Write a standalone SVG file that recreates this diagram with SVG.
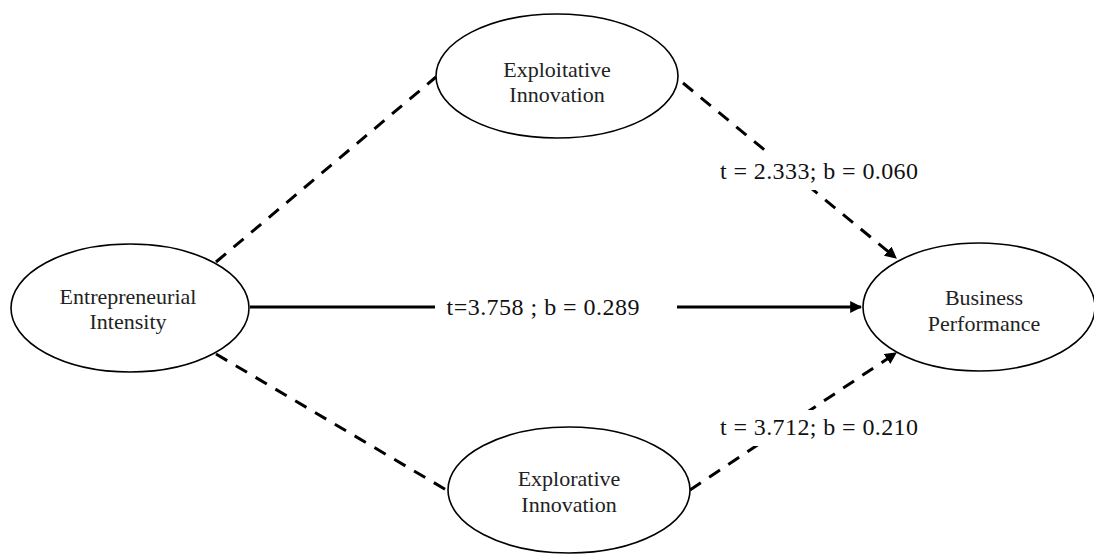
<svg xmlns="http://www.w3.org/2000/svg" width="1094" height="554" viewBox="0 0 1094 554">
<style>
.node{fill:#fff;stroke:#000;stroke-width:1.6}
.nt{font-family:"Liberation Serif","Times New Roman",serif;font-size:22px;fill:#222;text-anchor:middle}
.lt{font-family:"Liberation Serif","Times New Roman",serif;font-size:24px;fill:#111;text-anchor:middle}
.dash{stroke:#000;stroke-width:3;stroke-dasharray:13 10;fill:none}
.solid{stroke:#000;stroke-width:3;fill:none}
</style>
<defs>
<marker id="arr" viewBox="0 0 10 10" refX="9" refY="5" markerWidth="4" markerHeight="4" orient="auto" markerUnits="strokeWidth">
<path d="M0,0 L10,5 L0,10 z" fill="#000"/>
</marker>
</defs>
<rect width="1094" height="554" fill="#fff"/>
<g id="connectors">
<line class="dash" x1="216" y1="262" x2="436" y2="77"/>
<line class="dash" x1="683" y1="83" x2="896" y2="258" marker-end="url(#arr)"/>
<line class="dash" x1="216" y1="354" x2="448" y2="491"/>
<line class="dash" x1="690" y1="490" x2="896" y2="353" marker-end="url(#arr)"/>
<line class="solid" x1="250" y1="307" x2="861" y2="307" marker-end="url(#arr)"/>
<rect x="716" y="152" width="206" height="38" fill="#fff"/>
<text class="lt" x="819" y="179" textLength="198">t = 2.333; b = 0.060</text>
<rect x="435" y="290" width="242" height="34" fill="#fff"/>
<text class="lt" x="543" y="315" textLength="193">t=3.758 ; b = 0.289</text>
<rect x="716" y="410" width="206" height="36" fill="#fff"/>
<text class="lt" x="819" y="435" textLength="198">t = 3.712; b = 0.210</text>
</g>
<g id="entrepreneurial-intensity">
<ellipse class="node" cx="130" cy="308" rx="119" ry="64"/>
<text class="nt" x="128" y="304">Entrepreneurial</text>
<text class="nt" x="128" y="329">Intensity</text>
</g>
<g id="exploitative-innovation">
<ellipse class="node" cx="557" cy="76" rx="121" ry="62"/>
<text class="nt" x="557" y="77">Exploitative</text>
<text class="nt" x="557" y="102">Innovation</text>
</g>
<g id="business-performance">
<ellipse class="node" cx="979" cy="307" rx="116" ry="64"/>
<text class="nt" x="984" y="305">Business</text>
<text class="nt" x="984" y="331">Performance</text>
</g>
<g id="explorative-innovation">
<ellipse class="node" cx="569" cy="490" rx="121" ry="63"/>
<text class="nt" x="569" y="486">Explorative</text>
<text class="nt" x="569" y="512">Innovation</text>
</g>
</svg>
